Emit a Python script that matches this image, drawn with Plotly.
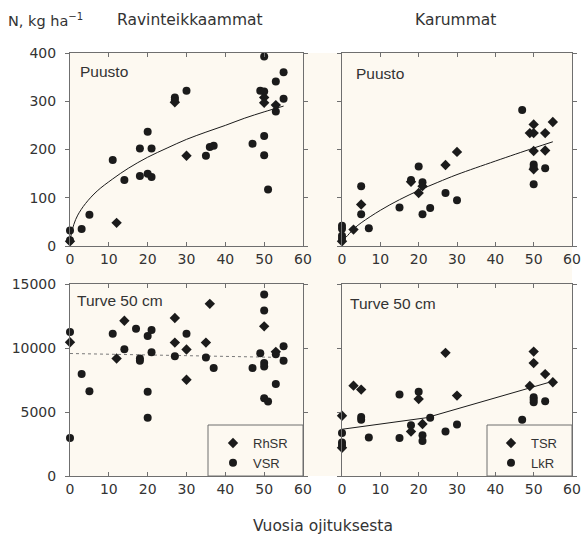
import plotly.graph_objects as go

W, H = 581, 537

# ---------------- data ----------------
# Ravinteikkaammat, Puusto
rav_puu_rhsr_x = [0, 12, 27, 30, 50, 50, 53]
rav_puu_rhsr_y = [10, 48, 298, 187, 308, 297, 292]
rav_puu_vsr_x = [0, 0, 3, 5, 11, 14, 18, 18, 20, 20, 21, 21, 27, 27, 30, 35, 36, 37, 47, 49, 50, 50, 50, 50, 51, 53, 53, 55, 55]
rav_puu_vsr_y = [32, 12, 35, 65, 178, 137, 202, 145, 237, 150, 202, 143, 308, 303, 322, 187, 205, 208, 212, 322, 393, 320, 228, 188, 117, 341, 279, 360, 305]
rav_puu_trend_x = [0, 1, 2, 4, 7, 11, 15, 20, 25, 30, 35, 40, 45, 50, 55]
rav_puu_trend_y = [12, 45, 64, 88, 114, 139, 161, 184, 203, 221, 236, 250, 265, 278, 290]

# Karummat, Puusto
kar_puu_tsr_x = [0, 3, 5, 18, 20, 21, 27, 30, 49, 50, 50, 50, 50, 53, 53, 55]
kar_puu_tsr_y = [10, 34, 86, 133, 110, 124, 168, 195, 234, 252, 234, 197, 159, 234, 198, 257]
kar_puu_lkr_x = [0, 0, 0, 0, 5, 5, 7, 15, 18, 20, 21, 21, 23, 27, 30, 47, 50, 50, 50, 53]
kar_puu_lkr_y = [42, 36, 21, 15, 124, 66, 37, 80, 137, 165, 132, 66, 79, 110, 95, 282, 169, 163, 128, 161]
kar_puu_trend_x = [0, 1, 3, 5, 10, 15, 20, 25, 30, 40, 50, 55]
kar_puu_trend_y = [12, 18, 35, 48, 74, 96, 115, 132, 148, 176, 203, 216]

# Ravinteikkaammat, Turve 50 cm
rav_tur_rhsr_x = [0, 12, 14, 27, 27, 30, 30, 35, 36, 50, 53]
rav_tur_rhsr_y = [10450, 9180, 12130, 12340, 10420, 9880, 7520, 10420, 13450, 11690, 9700]
rav_tur_vsr_x = [0, 0, 3, 5, 11, 14, 17, 18, 18, 20, 20, 20, 21, 21, 27, 30, 35, 37, 47, 49, 50, 50, 50, 50, 50, 51, 53, 53, 55, 55]
rav_tur_vsr_y = [11250, 2970, 7960, 6620, 11120, 9900, 11500, 9180, 9000, 10940, 6590, 4550, 11400, 9670, 9360, 11120, 9260, 8430, 8430, 9590, 14170, 12930, 8820, 8560, 6080, 5820, 9520, 7190, 10140, 9000]
rav_tur_trend_x = [0, 55]
rav_tur_trend_y = [9570, 9260]

# Karummat, Turve 50 cm
kar_tur_tsr_x = [0, 0, 3, 5, 18, 20, 21, 27, 30, 49, 50, 50, 53, 55]
kar_tur_tsr_y = [4710, 2200, 7060, 6750, 3470, 6020, 4060, 9620, 6280, 7030, 9720, 8820, 7960, 7320]
kar_tur_lkr_x = [0, 0, 0, 5, 5, 7, 15, 15, 18, 20, 21, 21, 23, 27, 30, 47, 50, 50, 50, 53]
kar_tur_lkr_y = [3360, 2610, 2400, 4600, 4400, 3000, 6360, 2970, 3960, 6590, 3180, 2740, 4550, 3470, 4030, 4400, 6150, 5950, 5770, 5840]
kar_tur_trend_x = [0, 22, 55]
kar_tur_trend_y = [3650, 4550, 7400]

x_ticks = [0, 10, 20, 30, 40, 50, 60]
puu_ticks = [0, 100, 200, 300, 400]
tur_ticks = [0, 5000, 10000, 15000]
tur_tick_labels = ["0", "5000", "10000", "15000"]

# ---------------- styling ----------------
INK = "#1b1b1b"
TXT = "#333333"
AXC = "#6f6f6f"
CREAM = "#FDF9F1"
GEO = "DejaVu Sans, sans-serif"
TICKFONT = dict(family=GEO, size=14, color=TXT)
ARIAL = "Liberation Sans, Arial, sans-serif"


def px(x):
    return x / W


def py(y):
    return 1 - y / H


fig = go.Figure()


def add_points(xs, ys, sym, name, xa, ya, legend=None):
    fig.add_trace(go.Scatter(
        x=xs, y=ys, mode="markers", name=name, xaxis=xa, yaxis=ya,
        marker=dict(symbol=sym, size=8, color=INK, line=dict(width=0)),
        cliponaxis=False, showlegend=legend is not None,
        legend=legend if legend else "legend"))


def add_line(xs, ys, xa, ya, dash="solid", color=INK, shape="spline"):
    fig.add_trace(go.Scatter(
        x=xs, y=ys, mode="lines", xaxis=xa, yaxis=ya, showlegend=False,
        line=dict(color=color, width=1, dash=dash, shape=shape), hoverinfo="skip"))


# panel 1: top-left (x, y)
add_line(rav_puu_trend_x, rav_puu_trend_y, "x", "y")
add_points(rav_puu_vsr_x, rav_puu_vsr_y, "circle", "VSR", "x", "y")
add_points(rav_puu_rhsr_x, rav_puu_rhsr_y, "diamond", "RhSR", "x", "y")
# panel 2: top-right (x2, y2)
add_line(kar_puu_trend_x, kar_puu_trend_y, "x2", "y2")
add_points(kar_puu_lkr_x, kar_puu_lkr_y, "circle", "LkR", "x2", "y2")
add_points(kar_puu_tsr_x, kar_puu_tsr_y, "diamond", "TSR", "x2", "y2")
# panel 3: bottom-left (x3, y3)
add_line(rav_tur_trend_x, rav_tur_trend_y, "x3", "y3", dash="dot", color="#7a7a7a", shape="linear")
add_points(rav_tur_rhsr_x, rav_tur_rhsr_y, "diamond", "RhSR", "x3", "y3", legend="legend")
add_points(rav_tur_vsr_x, rav_tur_vsr_y, "circle", "VSR", "x3", "y3", legend="legend")
# panel 4: bottom-right (x4, y4)
add_line(kar_tur_trend_x, kar_tur_trend_y, "x4", "y4", shape="linear")
add_points(kar_tur_tsr_x, kar_tur_tsr_y, "diamond", "TSR", "x4", "y4", legend="legend2")
add_points(kar_tur_lkr_x, kar_tur_lkr_y, "circle", "LkR", "x4", "y4", legend="legend2")

# panel geometry in pixels
LX0, LX1 = 70, 303
RX0, RX1 = 342, 572
TY0, TY1 = 53, 246
BY0, BY1 = 284, 476

xbase = dict(range=[0, 60], tickvals=x_ticks, showline=True, linecolor=AXC, linewidth=1,
             mirror="ticks", ticks="inside", ticklen=4, tickcolor=AXC, showgrid=False,
             zeroline=False, tickfont=TICKFONT, fixedrange=True, automargin=False)
ybase = dict(showline=True, linecolor=AXC, linewidth=1, mirror="ticks", ticks="outside",
             ticklen=4, tickcolor=AXC, showgrid=False, zeroline=False, tickfont=TICKFONT,
             fixedrange=True, ticklabelstandoff=6, automargin=False)

fig.update_layout(
    xaxis=dict(xbase, domain=[px(LX0), px(LX1)], anchor="y"),
    yaxis=dict(ybase, domain=[py(TY1), py(TY0)], anchor="x", range=[0, 400], tickvals=puu_ticks),
    xaxis2=dict(xbase, domain=[px(RX0), px(RX1)], anchor="y2"),
    yaxis2=dict(ybase, domain=[py(TY1), py(TY0)], anchor="x2", range=[0, 400], tickvals=puu_ticks,
                showticklabels=False),
    xaxis3=dict(xbase, domain=[px(LX0), px(LX1)], anchor="y3"),
    yaxis3=dict(ybase, domain=[py(BY1), py(BY0)], anchor="x3", range=[0, 15000], tickvals=tur_ticks,
                ticktext=tur_tick_labels),
    xaxis4=dict(xbase, domain=[px(RX0), px(RX1)], anchor="y4"),
    yaxis4=dict(ybase, domain=[py(BY1), py(BY0)], anchor="x4", range=[0, 15000], tickvals=tur_ticks,
                ticktext=tur_tick_labels, showticklabels=False),
)

shapes = [
    dict(type="rect", xref="paper", yref="paper", x0=px(LX0), x1=px(RX1), y0=py(BY1), y1=py(TY0),
         fillcolor=CREAM, line=dict(width=0), layer="below"),
    dict(type="rect", xref="paper", yref="paper", x0=px(208), x1=px(LX1), y0=py(BY1), y1=py(425),
         fillcolor="rgba(0,0,0,0)", line=dict(color=AXC, width=1)),
    dict(type="rect", xref="paper", yref="paper", x0=px(487), x1=px(RX1), y0=py(BY1), y1=py(425),
         fillcolor="rgba(0,0,0,0)", line=dict(color=AXC, width=1)),
]


def ann(text, x, y, size=15.5, family=GEO, xanchor="left"):
    return dict(text=text, x=px(x), y=py(y), xref="paper", yref="paper", showarrow=False,
                xanchor=xanchor, yanchor="middle", font=dict(family=family, size=size, color=TXT))


annotations = [
    ann("N, kg ha<sup>−1</sup>", 6, 20, size=14.5),
    ann("Ravinteikkaammat", 190, 20, xanchor="center"),
    ann("Karummat", 455, 20, xanchor="center"),
    ann("Vuosia ojituksesta", 323, 526, xanchor="center"),
    ann("Puusto", 78, 72, family=ARIAL),
    ann("Puusto", 354, 73, family=ARIAL),
    ann("Turve 50 cm", 75, 300, family=ARIAL),
    ann("Turve 50 cm", 348, 303, family=ARIAL),
]

legend_common = dict(bgcolor="rgba(0,0,0,0)", borderwidth=0, xanchor="left", yanchor="top",
                     font=dict(family=ARIAL, size=13, color=TXT), tracegroupgap=0,
                     itemclick=False, itemdoubleclick=False)

fig.update_layout(
    width=W, height=H, autosize=False,
    margin=dict(l=0, r=0, t=0, b=0, autoexpand=False),
    paper_bgcolor="white", plot_bgcolor="rgba(0,0,0,0)",
    shapes=shapes, annotations=annotations,
    legend=dict(legend_common, x=px(213), y=py(428)),
    legend2=dict(legend_common, x=px(491), y=py(428)),
    hovermode=False,
)

fig.write_html("out.html", config={"displayModeBar": False},
               post_script="document.body.style.margin='0px';")
